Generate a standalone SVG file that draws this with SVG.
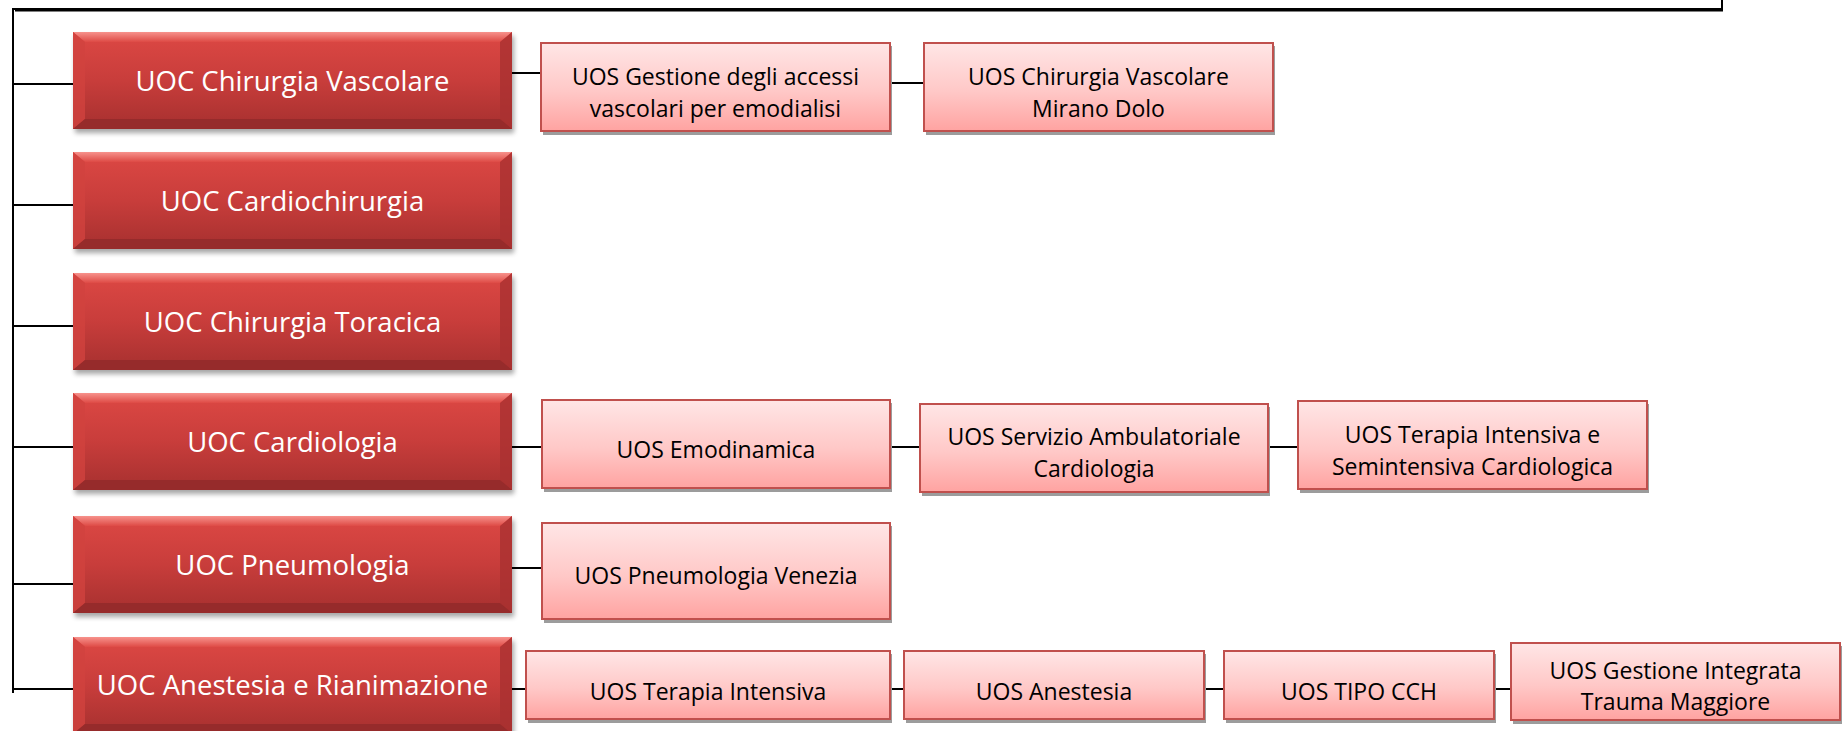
<svg xmlns="http://www.w3.org/2000/svg" xmlns:xlink="http://www.w3.org/1999/xlink" width="1844" height="731" viewBox="0 0 1844 731">
<defs>
<style>
.uoc{font-family:"Open Sans","Noto Sans","DejaVu Sans",sans-serif;font-size:27.5px;fill:#ffffff;text-anchor:middle}
.uos{font-family:"Open Sans","Noto Sans","DejaVu Sans",sans-serif;font-size:23px;fill:#000000;text-anchor:middle}
.conn line,.conn path{stroke:#000;stroke-width:2;fill:none}
.pink{fill:url(#pinkGrad);stroke:#c0504d;stroke-width:2}
.pshadow{fill:#9c9c9c}
</style>
<linearGradient id="redGrad" x1="0" y1="0" x2="0" y2="1">
<stop offset="0" stop-color="#dd4844"/>
<stop offset="0.5" stop-color="#c83d3b"/>
<stop offset="1" stop-color="#a6302f"/>
</linearGradient>
<linearGradient id="bevTop" x1="0" y1="0" x2="0" y2="1">
<stop offset="0" stop-color="#f7928c"/>
<stop offset="1" stop-color="#de4a45"/>
</linearGradient>
<linearGradient id="pinkGrad" x1="0" y1="0" x2="0" y2="1">
<stop offset="0" stop-color="#ffe6e6"/>
<stop offset="0.55" stop-color="#ffc8c7"/>
<stop offset="1" stop-color="#ffa3a1"/>
</linearGradient>
<filter id="blur" x="-10%" y="-20%" width="120%" height="150%">
<feGaussianBlur stdDeviation="2.5"/>
</filter>
<g id="redShape">
<rect x="2" y="4" width="439" height="97" fill="#000" opacity="0.35" filter="url(#blur)"/>
<rect x="0" y="0" width="439" height="97" fill="url(#redGrad)"/>
<polygon points="0,0 439,0 427,10 12,10" fill="url(#bevTop)"/>
<polygon points="0,0 12,10 12,87 0,97" fill="#d1423e" opacity="0.8"/>
<polygon points="439,0 427,10 427,87 439,97" fill="#a93131" opacity="0.8"/>
<polygon points="0,97 12,87 427,87 439,97" fill="#962b2b"/>
</g>
</defs>
<rect width="1844" height="731" fill="#ffffff"/>

<g id="connectors" class="conn">
<line x1="15" y1="10.5" x2="1723" y2="10.5" stroke="#999" stroke-width="2"/>
<path d="M13,693 L13,9 L1722,9 L1722,0"/>
<line x1="13" y1="84" x2="73" y2="84"/>
<line x1="13" y1="205" x2="73" y2="205"/>
<line x1="13" y1="326" x2="73" y2="326"/>
<line x1="13" y1="447" x2="73" y2="447"/>
<line x1="13" y1="584" x2="73" y2="584"/>
<line x1="13" y1="689" x2="73" y2="689"/>
<line x1="512" y1="73" x2="541" y2="73"/>
<line x1="890" y1="83" x2="924" y2="83"/>
<line x1="512" y1="447" x2="542" y2="447"/>
<line x1="890" y1="447" x2="920" y2="447"/>
<line x1="1268" y1="447" x2="1298" y2="447"/>
<line x1="512" y1="568" x2="542" y2="568"/>
<line x1="512" y1="689" x2="526" y2="689"/>
<line x1="890" y1="689" x2="904" y2="689"/>
<line x1="1204" y1="689" x2="1224" y2="689"/>
<line x1="1494" y1="689" x2="1511" y2="689"/>
</g>

<g id="uoc-chirurgia-vascolare">
<use xlink:href="#redShape" x="73" y="32"/>
<text class="uoc" x="292.5" y="91">UOC Chirurgia Vascolare</text>
</g>
<g id="uoc-cardiochirurgia">
<use xlink:href="#redShape" x="73" y="152"/>
<text class="uoc" x="292.5" y="211">UOC Cardiochirurgia</text>
</g>
<g id="uoc-chirurgia-toracica">
<use xlink:href="#redShape" x="73" y="273"/>
<text class="uoc" x="292.5" y="332">UOC Chirurgia Toracica</text>
</g>
<g id="uoc-cardiologia">
<use xlink:href="#redShape" x="73" y="393"/>
<text class="uoc" x="292.5" y="452">UOC Cardiologia</text>
</g>
<g id="uoc-pneumologia">
<use xlink:href="#redShape" x="73" y="516"/>
<text class="uoc" x="292.5" y="575">UOC Pneumologia</text>
</g>
<g id="uoc-anestesia">
<use xlink:href="#redShape" x="73" y="637"/>
<text class="uoc" x="292.5" y="695">UOC Anestesia e Rianimazione</text>
</g>

<g id="uos-gestione-accessi">
<rect class="pshadow" x="543" y="46" width="349" height="89"/>
<rect class="pink" x="541" y="43" width="349" height="88"/>
<text class="uos" x="715.5" y="85">UOS Gestione degli accessi</text>
<text class="uos" x="715.5" y="117">vascolari per emodialisi</text>
</g>
<g id="uos-chirurgia-vascolare-mirano">
<rect class="pshadow" x="926" y="46" width="349" height="89"/>
<rect class="pink" x="924" y="43" width="349" height="88"/>
<text class="uos" x="1098.5" y="85">UOS Chirurgia Vascolare</text>
<text class="uos" x="1098.5" y="117">Mirano Dolo</text>
</g>

<g id="uos-emodinamica">
<rect class="pshadow" x="544" y="403" width="348" height="89"/>
<rect class="pink" x="542" y="400" width="348" height="88"/>
<text class="uos" x="716" y="458">UOS Emodinamica</text>
</g>
<g id="uos-servizio-ambulatoriale">
<rect class="pshadow" x="922" y="407" width="348" height="89"/>
<rect class="pink" x="920" y="404" width="348" height="88"/>
<text class="uos" x="1094" y="445">UOS Servizio Ambulatoriale</text>
<text class="uos" x="1094" y="477">Cardiologia</text>
</g>
<g id="uos-terapia-intensiva-cardiologica">
<rect class="pshadow" x="1300" y="404" width="349" height="89"/>
<rect class="pink" x="1298" y="401" width="349" height="88"/>
<text class="uos" x="1472.5" y="443">UOS Terapia Intensiva e</text>
<text class="uos" x="1472.5" y="475">Semintensiva Cardiologica</text>
</g>

<g id="uos-pneumologia-venezia">
<rect class="pshadow" x="544" y="526" width="348" height="97"/>
<rect class="pink" x="542" y="523" width="348" height="96"/>
<text class="uos" x="716" y="584">UOS Pneumologia Venezia</text>
</g>

<g id="uos-terapia-intensiva">
<rect class="pshadow" x="528" y="654" width="364" height="69"/>
<rect class="pink" x="526" y="651" width="364" height="68"/>
<text class="uos" x="708" y="700">UOS Terapia Intensiva</text>
</g>
<g id="uos-anestesia">
<rect class="pshadow" x="906" y="654" width="300" height="69"/>
<rect class="pink" x="904" y="651" width="300" height="68"/>
<text class="uos" x="1054" y="700">UOS Anestesia</text>
</g>
<g id="uos-tipo-cch">
<rect class="pshadow" x="1226" y="654" width="270" height="69"/>
<rect class="pink" x="1224" y="651" width="270" height="68"/>
<text class="uos" x="1359" y="700">UOS TIPO CCH</text>
</g>
<g id="uos-gestione-trauma">
<rect class="pshadow" x="1513" y="646" width="329" height="78"/>
<rect class="pink" x="1511" y="643" width="329" height="77"/>
<text class="uos" x="1675.5" y="679">UOS Gestione Integrata</text>
<text class="uos" x="1675.5" y="710">Trauma Maggiore</text>
</g>
</svg>
